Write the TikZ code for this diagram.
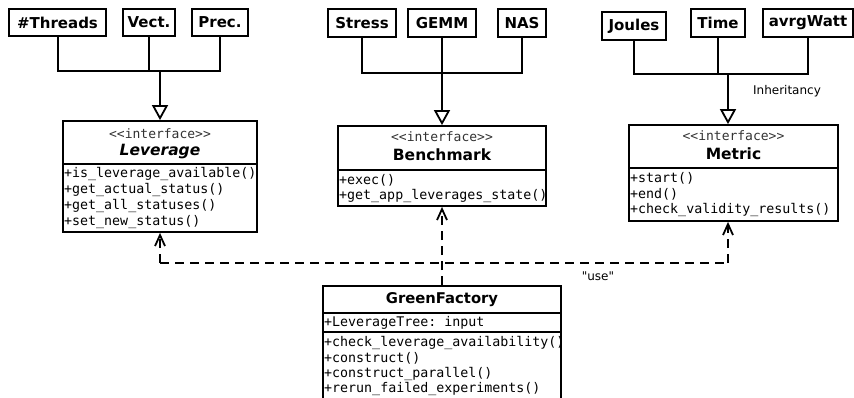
\documentclass[tikz,border=0pt]{standalone}
\usepackage{fontspec}
\setmainfont{DejaVu Sans}
\setmonofont{DejaVu Sans Mono}
\newfontfamily\qfont{DejaVu Sans}[Ligatures=TeXOff]
\usetikzlibrary{arrows.meta}
\tikzset{
  leaf/.style={draw, line width=2.2pt, font=\bfseries\fontsize{15}{18}\selectfont, minimum height=27pt, inner sep=0pt},
  cls/.style={draw, line width=1.8pt, inner sep=0pt},
  divider/.style={line width=1.6pt},
  meth/.style={anchor=west, inner sep=0pt, font=\ttfamily\fontsize{13.3}{16}\selectfont},
  stereo/.style={inner sep=0pt, font=\ttfamily\fontsize{13}{15}\selectfont, text=black!80},
  ctitle/.style={inner sep=0pt, font=\bfseries\fontsize{15.5}{18}\selectfont},
  tree/.style={line width=2pt},
  inh/.style={line width=2.8pt, -{Triangle[open, length=15pt, width=16pt, line width=1.8pt]}},
  usearrow/.style={line width=2pt, dash pattern=on 9pt off 6pt, -{Straight Barb[length=11pt, width=10pt, line width=1.8pt]}},
  useline/.style={line width=2pt, dash pattern=on 9pt off 6pt},
  lbl/.style={inner sep=0pt, font=\qfont\fontsize{12}{14}\selectfont},
}
\begin{document}
\begin{tikzpicture}[x=1pt, y=-1pt]
\clip (0,0) rectangle (854,398);
\fill[white] (0,0) rectangle (854,398);

% ---- leaf boxes
\node[leaf, minimum width=97pt] (thr) at (57.5,22.5) {\#Threads};
\node[leaf, minimum width=52pt] (vec) at (149,22.5) {Vect.};
\node[leaf, minimum width=56pt] (pre) at (220,22.5) {Prec.};

\node[leaf, minimum width=68pt, minimum height=28pt] (str) at (362,23) {Stress};
\node[leaf, minimum width=68pt, minimum height=28pt] (gem) at (442,23) {GEMM};
\node[leaf, minimum width=48pt, minimum height=28pt] (nas) at (522,23) {NAS};

\node[leaf, minimum width=64pt, minimum height=28pt] (jou) at (634,26) {Joules};
\node[leaf, minimum width=54pt, minimum height=28pt] (tim) at (718,23) {Time};
\node[leaf, minimum width=90pt, minimum height=28pt] (avw) at (808,23) {avrgWatt};

% ---- class boxes
\node[cls, minimum width=194pt, minimum height=111pt] (lev) at (160,176.5) {};
\draw[divider] (63,164) -- (257,164);
\node[stereo] (levs) at (160,134) {{<}{<}interface{>}{>}};
\node[ctitle, font=\bfseries\itshape\fontsize{15.5}{18}\selectfont] (levt) at (160,152) {Leverage};
\node[meth] (levm1) at (64,174) {+is\_leverage\_available()};
\node[meth] (levm2) at (64,190) {+get\_actual\_status()};
\node[meth] (levm3) at (64,206) {+get\_all\_statuses()};
\node[meth] (levm4) at (64,222) {+set\_new\_status()};

\node[cls, minimum width=208pt, minimum height=80pt] (ben) at (442,166) {};
\draw[divider] (338,170) -- (546,170);
\node[stereo] (bens) at (442,137) {{<}{<}interface{>}{>}};
\node[ctitle] (bent) at (442,155) {Benchmark};
\node[meth] (benm1) at (339,180) {+exec()};
\node[meth] (benm2) at (339,196) {+get\_app\_leverages\_state()};

\node[cls, minimum width=209pt, minimum height=96pt] (met) at (733.5,173) {};
\draw[divider] (629,168) -- (838,168);
\node[stereo] (mets) at (733.5,136) {{<}{<}interface{>}{>}};
\node[ctitle] (mett) at (733.5,154) {Metric};
\node[meth] (metm1) at (630,178) {+start()};
\node[meth] (metm2) at (630,194) {+end()};
\node[meth] (metm3) at (630,210) {+check\_validity\_results()};

\node[cls, minimum width=238pt, minimum height=124pt] (gf) at (442,348) {};
\draw[divider] (323,313) -- (561,313);
\draw[divider] (323,332) -- (561,332);
\node[ctitle, font=\bfseries\fontsize{14.8}{18}\selectfont] (gft) at (442,300) {GreenFactory};
\node[meth] (gfa) at (324,322.5) {+LeverageTree: input};
\node[meth] (gfm1) at (324,342.5) {+check\_leverage\_availability()};
\node[meth] (gfm2) at (324,358) {+construct()};
\node[meth] (gfm3) at (324,373.5) {+construct\_parallel()};
\node[meth] (gfm4) at (324,389) {+rerun\_failed\_experiments()};

% ---- inheritance trees
\coordinate (jl) at (160,71);
\draw[tree] (thr.south) |- (pre.south |- jl) -- (pre.south);
\draw[tree] (vec.south) -- (vec.south |- jl);
\draw[inh] (jl) -- (lev.north);

\coordinate (jb) at (442,73);
\draw[tree] (str.south) |- (nas.south |- jb) -- (nas.south);
\draw[tree] (gem.south) -- (gem.south |- jb);
\draw[inh] (jb) -- (ben.north);

\coordinate (jm) at (728,74);
\draw[tree] (jou.south) |- (avw.south |- jm) -- (avw.south);
\draw[tree] (tim.south) -- (tim.south |- jm);
\draw[inh] (jm) -- (jm |- met.north);
\node[lbl] (inhl) at (787,91) {Inheritancy};

% ---- use dependencies
\coordinate (dl) at (160,263);
\coordinate (dr) at (728,263);
\draw[useline] (dl) -- (dr);
\draw[usearrow] (dl) -- (lev.south);
\draw[usearrow] (dr) -- (dr |- met.south);
\draw[usearrow] (gf.north) -- (ben.south);
\node[lbl] (usel) at (598,276) {"use"};
\end{tikzpicture}
\end{document}
